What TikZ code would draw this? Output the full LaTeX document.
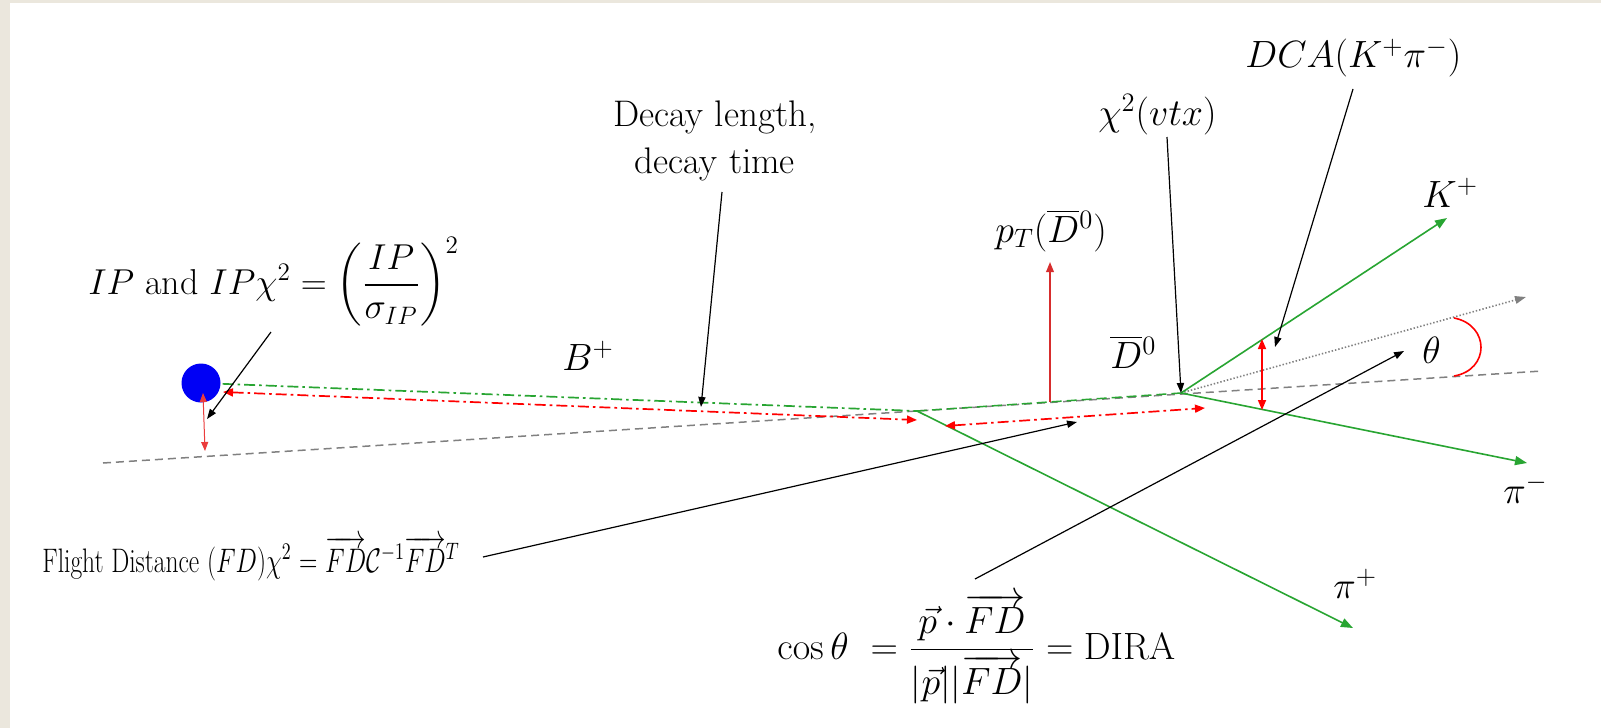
\RequirePackage{fix-cm}
\documentclass[tikz,border=0pt]{standalone}
\usepackage{amsmath}
\usetikzlibrary{arrows.meta}
\definecolor{bgbeige}{RGB}{235,231,221}
\definecolor{trkgreen}{RGB}{40,165,50}
\definecolor{ptred}{RGB}{215,45,45}
\definecolor{ipred}{RGB}{235,60,60}
\definecolor{refgrey}{RGB}{128,128,128}
\definecolor{pvblue}{RGB}{0,0,245}
\begin{document}
\begin{tikzpicture}[x=0.5pt,y=-0.5pt,
  lab/.style={inner sep=0pt, anchor=base west, font=\fontsize{19}{23}\selectfont},
  track/.style={draw=trkgreen, line width=0.8pt, -{Triangle[length=6pt,width=4.5pt]}},
  pointer/.style={draw=black, line width=0.6pt, -{Triangle[length=5pt,width=3.6pt]}},
  reddd/.style={draw=red, line width=0.85pt, dash pattern=on 5.5pt off 2pt on 1.3pt off 2pt,
     {Triangle[length=5pt,width=4pt]}-{Triangle[length=5pt,width=4pt]}},
  greendd/.style={draw=trkgreen, line width=0.85pt, dash pattern=on 5.5pt off 2pt on 1.3pt off 2pt},
  greydash/.style={draw=refgrey, line width=0.75pt, dash pattern=on 4pt off 2.5pt},
  greendash/.style={draw=trkgreen, line width=0.75pt, dash pattern=on 5pt off 2.5pt},
  greydot/.style={draw=refgrey, line width=0.8pt, dash pattern=on 0.7pt off 1pt,
     -{Triangle[length=5.5pt,width=3.8pt]}},
  redarr/.style={draw=red, line width=0.8pt, {Triangle[length=5pt,width=4pt]}-{Triangle[length=5pt,width=4pt]}},
  iparr/.style={draw=ipred, line width=0.5pt, {Triangle[length=4.5pt,width=3.5pt]}-{Triangle[length=4.5pt,width=3.5pt]}},
  ptarr/.style={draw=ptred, line width=0.8pt, -{Triangle[length=5pt,width=3.8pt]}},
  thetaarc/.style={draw=red, line width=0.8pt}
]
\useasboundingbox (0,0) rectangle (1601,728);
\fill[bgbeige] (0,0) rectangle (1601,728);
\fill[white] (10,3) rectangle (1601,728);

% key points
\coordinate (PV) at (201,383);
\coordinate (BV) at (917,411);
\coordinate (DV) at (1181,393);
\coordinate (G1) at (103,463);
\coordinate (G2) at (1542,371);
\coordinate (Kend) at (1447,218);
\coordinate (PIMend) at (1527,463);
\coordinate (PIPend) at (1353,628);
\coordinate (DIRend) at (1526,297);
\coordinate (R1a) at (223,392);
\coordinate (R1b) at (917,420);
\coordinate (R2a) at (945,426);
\coordinate (R2b) at (1205,408);
\coordinate (PT0) at (1050,402);
\coordinate (PT1) at (1050,262);
\coordinate (DCAa) at (1262,339);
\coordinate (DCAb) at (1262,410);
\coordinate (IPa) at (203,393);
\coordinate (IPb) at (205,451);
\coordinate (TH1) at (1454,318);
\coordinate (TH2) at (1454,376);

% lines
\draw[greydash] (G1) -- (G2);
\draw[greendd] (PV) -- (BV);
\draw[greendash] (BV) -- (DV);
\draw[greydot] (DV) -- (DIRend);
\draw[track] (BV) -- (PIPend);
\draw[track] (DV) -- (Kend);
\draw[track] (DV) -- (PIMend);
\draw[reddd] (R1a) -- (R1b);
\draw[reddd] (R2a) -- (R2b);
\draw[ptarr] (PT0) -- (PT1);
\draw[redarr] (DCAa) -- (DCAb);
\draw[thetaarc] (TH1) .. controls (1490,325) and (1490,370) .. (TH2);

\node[circle, fill=pvblue, minimum size=19.5pt, inner sep=0pt] (pvdot) at (PV) {};
\draw[iparr] (IPa) -- (IPb);

% labels
\node[lab, font=\fontsize{18}{22}\selectfont] (iplab) at (88,294) {$IP$ and $IP\chi^2=\left(\dfrac{IP}{\sigma_{IP}}\right)^{2}$};
\node[inner sep=0pt, align=center, font=\fontsize{18.5}{23.3}\selectfont] (dllab) at (715,141) {Decay length,\\decay time};
\node[lab] (blab) at (562,370) {$B^{+}$};
\node[lab] (ptlab) at (995,242) {$p_{T}(\overline{D}{}^{0})$};
\node[lab] (d0lab) at (1110,368) {$\overline{D}{}^{0}$};
\node[lab] (chilab) at (1098,125) {$\chi^{2}(vtx)$};
\node[lab] (dcalab) at (1245,68) {$DCA(K^{+}\pi^{-})$};
\node[lab] (klab) at (1422,207) {$K^{+}$};
\node[lab] (thlab) at (1422,363) {$\theta$};
\node[lab] (pimlab) at (1503,503) {$\pi^{-}$};
\node[lab] (piplab) at (1333,598) {$\pi^{+}$};
\node[lab, font=\fontsize{17}{20}\selectfont] (fdlab) at (42,572) {\scalebox{0.75}[1]{Flight Distance $(FD)\chi^{2}$ = $\overrightarrow{FD}\mathcal{C}^{-1}\overrightarrow{FD}^{T}$}};
\node[lab] (coslab) at (777,659) {$\cos\theta\ =\dfrac{\vec{p}\cdot\overrightarrow{FD}}{|\vec{p}||\overrightarrow{FD}|}=\mathrm{DIRA}$};

% pointer arrows
\coordinate (ipS) at (271,332);
\coordinate (ipT) at (207,419);
\coordinate (dlS) at (722,192);
\coordinate (dlT) at (701,407);
\coordinate (chiS) at (1167,137);
\coordinate (dcaS) at (1353,89);
\coordinate (dcaT) at (1275,347);
\coordinate (fdS) at (483,557);
\coordinate (fdT) at (1077,422);
\coordinate (cosS) at (975,579);
\coordinate (cosT) at (1404,351);
\draw[pointer] (ipS) -- (ipT);
\draw[pointer] (dlS) -- (dlT);
\draw[pointer] (chiS) -- (DV);
\draw[pointer] (dcaS) -- (dcaT);
\draw[pointer] (fdS) -- (fdT);
\draw[pointer] (cosS) -- (cosT);
\end{tikzpicture}
\end{document}
